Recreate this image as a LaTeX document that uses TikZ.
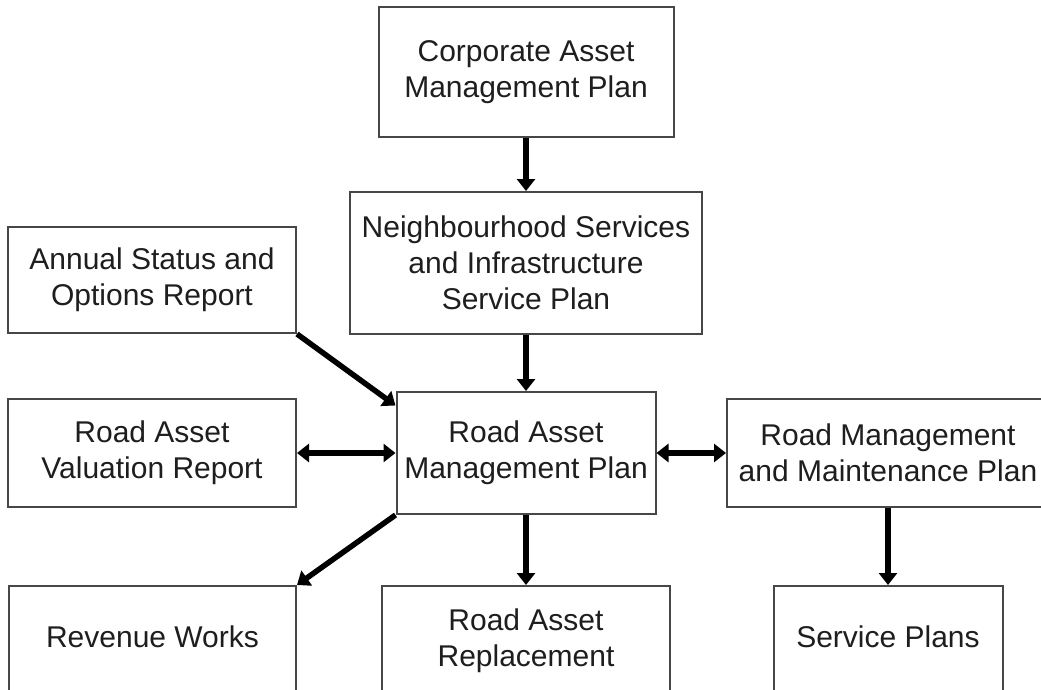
\documentclass[tikz,border=0pt]{standalone}
\usepackage{fontspec}
\setmainfont{Liberation Sans}
\usetikzlibrary{arrows.meta,calc}
\definecolor{boxline}{HTML}{474747}
\definecolor{boxtext}{HTML}{1E1E1E}
\begin{document}
\begin{tikzpicture}[x=1pt,y=-1pt,
  boxfont/.style={font=\fontsize{30}{36}\selectfont, text=boxtext, align=center},
  box/.style={boxfont, draw=boxline, line width=2pt, rectangle, inner sep=0pt},
  caption/.style={boxfont, inner sep=0pt},
  link/.style={line width=5.5pt, draw=black, -{Triangle[length=12pt,width=18pt]}},
  both/.style={line width=5.5pt, draw=black, {Triangle[length=12pt,width=18pt]}-{Triangle[length=12pt,width=18pt]}}
]
% page frame
\useasboundingbox (0,0) rectangle (1041,690);
\fill[white] (0,0) rectangle (1041,690);
\clip (0,0) rectangle (1041,690);

% top chain
\node[box, minimum width=295, minimum height=130] (corp) at (526,72)
  {Corporate Asset\\Management Plan};
\node[box, minimum width=352, minimum height=142] (neigh) at (526,263)
  {Neighbourhood Services\\and Infrastructure\\Service Plan};

% left column
\node[box, minimum width=288, minimum height=106] (annual) at (152,280)
  {Annual Status and\\Options Report};
\node[box, minimum width=288, minimum height=108] (val) at (152,453)
  {Road Asset\\Valuation Report};

% central plan and its right-hand partner
\node[box, minimum width=259, minimum height=122] (ramp) at (526,453)
  {Road Asset\\Management Plan};
\node[box, minimum width=322, minimum height=108] (rmmp) at (888,453)
  {Road Management\\and Maintenance Plan};

% bottom row (boxes run past the lower edge)
\node[box, minimum width=287, minimum height=130,
      label={[caption, name=revtext, yshift=14pt]center:Revenue Works}]
  (rev) at (152.5,651) {};
\node[box, minimum width=288, minimum height=130,
      label={[caption, name=repltext, yshift=10pt]center:Road Asset\\Replacement}]
  (repl) at (526,651) {};
\node[box, minimum width=229, minimum height=130,
      label={[caption, name=svctext, yshift=14pt]center:Service Plans}]
  (svc) at (888,651) {};

% connectors
\draw[link] (corp.south) -- (neigh.north);
\draw[link] (neigh.south) -- (ramp.north);
\draw[link] (annual.south east) -- (ramp.160);
\draw[both] (val.east) -- (ramp.west);
\draw[both] (ramp.east) -- (rmmp.west);
\draw[link] (ramp.south west) -- (rev.north east);
\draw[link] (ramp.south) -- (repl.north);
\draw[link] (rmmp.south) -- (svc.north);
\end{tikzpicture}
\end{document}
